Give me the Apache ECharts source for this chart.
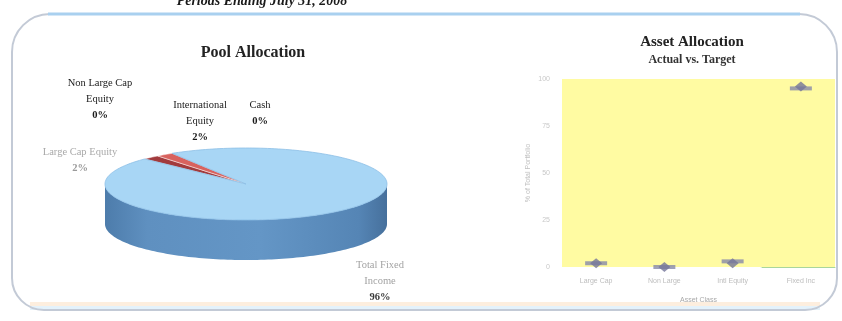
<!DOCTYPE html>
<html>
<head>
<meta charset="utf-8">
<title>Pool Allocation</title>
<script src="https://cdn.jsdelivr.net/npm/echarts@6/dist/echarts.min.js"></script>
<style>
  html, body { margin: 0; padding: 0; background: #ffffff; }
  #chart { width: 842px; height: 321px; }
</style>
</head>
<body>
<div id="chart"></div>
<script>
// ---- Pool allocation (pie) ----
const sliceNames = ['Large Cap Equity', 'Non Large Cap Equity', 'International Equity', 'Cash', 'Total Fixed Income'];
const sliceLabels = ['Large Cap Equity', 'Non Large Cap\nEquity', 'International\nEquity', 'Cash', 'Total Fixed\nIncome'];
const sliceValues = [2, 0, 2, 0, 96];

// ---- Asset allocation, actual vs. target ----
const assetClasses = ['Large Cap', 'Non Large', 'Intl Equity', 'Fixed Inc'];
const actualPct = [2, 0, 2, 96];
const targetPct = [2, 0, 3, 95];
const pctTicks = [0, 25, 50, 75, 100];

// layout / style
const PIE = { cx: 246, cy: 184, rx: 141, ry: 36, depth: 40, start: 136 };
const sliceTop = ['#a23b3d', '#8a6aa0', '#d8625e', '#8fb86a', '#a8d6f5'];
const sliceSide = ['#7a2a2c', '#654d77', '#a84946', '#6c8f4e', '#5b8cbd'];
const labelPos = [[80, 160], [100, 99], [200, 121], [260, 113], [380, 281]];
const labelName = ['#a9a9a9', '#1a1a1a', '#1a1a1a', '#1a1a1a', '#a3a3a3'];
const labelPct = ['#9a9a9a', '#1a1a1a', '#1a1a1a', '#1a1a1a', '#3a3a3a'];

const total = sliceValues.reduce((a, b) => a + b, 0);
const cumulative = sliceValues.map((v, i) => sliceValues.slice(0, i).reduce((a, b) => a + b, 0));

function rimPoint(deg, dy) {
  const t = deg * Math.PI / 180;
  return [PIE.cx + PIE.rx * Math.cos(t), PIE.cy - PIE.ry * Math.sin(t) + (dy || 0)];
}
function arc(from, to, dy) {
  const pts = [];
  const n = Math.max(2, Math.ceil(Math.abs(to - from) / 1.5));
  for (let k = 0; k <= n; k++) pts.push(rimPoint(from + (to - from) * k / n, dy));
  return pts;
}

const sideGradient = {
  type: 'linear', global: true,
  x: PIE.cx - PIE.rx, y: 0, x2: PIE.cx + PIE.rx, y2: 0,
  colorStops: [
    { offset: 0, color: '#4d7cab' },
    { offset: 0.15, color: '#5f90c0' },
    { offset: 0.55, color: '#6496c6' },
    { offset: 0.9, color: '#5585b5' },
    { offset: 1, color: '#46709c' }
  ]
};

function renderSlice(params, api) {
  const i = params.dataIndex;
  const v = api.value(0);
  const a0 = PIE.start - cumulative[i] / total * 360;
  const a1 = a0 - v / total * 360;
  const children = [];
  if (v > 0) {
    const lo = a1, hi = a0;
    // visible side wall: front half of the ellipse (sin < 0)
    for (let k = -2; k <= 1; k++) {
      const fLo = -180 + 360 * k, fHi = 360 * k;
      const s = Math.max(lo, fLo), e = Math.min(hi, fHi);
      if (e > s) {
        const top = arc(s, e, 0);
        const bottom = arc(e, s, PIE.depth);
        children.push({
          type: 'polygon', z2: 1,
          shape: { points: top.concat(bottom) },
          style: { fill: i === 4 ? sideGradient : sliceSide[i], stroke: null }
        });
      }
    }
    // top face
    children.push({
      type: 'polygon', z2: 10,
      shape: { points: [[PIE.cx, PIE.cy]].concat(arc(a0, a1, 0)) },
      style: { fill: sliceTop[i], stroke: i === 4 ? '#8dbfe6' : 'rgba(255,255,255,0.6)', lineWidth: 0.8 }
    });
  }
  // label generated from the slice value
  const pct = Math.round(v / total * 100) + '%';
  children.push({
    type: 'text', z2: 20,
    x: labelPos[i][0], y: labelPos[i][1],
    style: {
      text: '{n|' + sliceLabels[i].split('\n').join('}\n{n|') + '}\n{p|' + pct + '}',
      align: 'center', verticalAlign: 'middle',
      rich: {
        n: { fontFamily: 'Liberation Serif', fontSize: 10.5, lineHeight: 16, fill: labelName[i], align: 'center' },
        p: { fontFamily: 'Liberation Serif', fontSize: 10.5, lineHeight: 16, fill: labelPct[i], fontWeight: 'bold', align: 'center' }
      }
    }
  });
  return { type: 'group', children: children };
}

const chart = echarts.init(document.getElementById('chart'), null, { renderer: 'canvas' });

const option = {
  backgroundColor: '#ffffff',
  animation: false,
  title: [
    {
      text: 'Pool Allocation', left: 248, top: 40, textAlign: 'center',
      textStyle: { fontFamily: 'Liberation Serif', fontSize: 16, fontWeight: 'bold', color: '#222' }
    },
    {
      text: 'Asset Allocation', subtext: 'Actual vs. Target',
      left: 687, top: 30, textAlign: 'center', itemGap: 4,
      textStyle: { fontFamily: 'Liberation Serif', fontSize: 15, fontWeight: 'bold', color: '#222' },
      subtextStyle: { fontFamily: 'Liberation Serif', fontSize: 12, fontWeight: 'bold', color: '#333' }
    }
  ],
  graphic: [
    {
      type: 'text', z: 5, silent: true,
      style: { text: 'Periods Ending July 31, 2008', x: 262, y: -6, align: 'center',
        font: 'italic bold 14px "Liberation Serif"', fill: '#1a1a1a' }
    },
    {
      type: 'rect', z: -5, silent: true,
      shape: { x: 12, y: 14, width: 825, height: 296, r: [38, 38, 32, 32] },
      style: { fill: 'rgba(0,0,0,0)', stroke: '#c3cad6', lineWidth: 2 }
    },
    {
      type: 'line', z: -4, silent: true,
      shape: { x1: 48, y1: 14, x2: 800, y2: 14 },
      style: { stroke: '#a9d0ef', lineWidth: 3 }
    },
    {
      type: 'rect', z: -6, silent: true,
      shape: { x: 30, y: 302, width: 790, height: 4 },
      style: { fill: '#fdeede' }
    },
    {
      type: 'rect', z: -6, silent: true,
      shape: { x: 30, y: 306, width: 790, height: 4 },
      style: { fill: '#e4f2fb' }
    }
  ],
  grid: {
    left: 562, right: 7, top: 79, bottom: 54,
    show: true, backgroundColor: '#fffba2', borderWidth: 0
  },
  xAxis: {
    type: 'category', data: assetClasses, boundaryGap: true,
    axisLine: {
      lineStyle: {
        width: 1,
        color: {
          type: 'linear', x: 0, y: 0, x2: 1, y2: 0,
          colorStops: [
            { offset: 0, color: 'rgba(255,255,255,0)' },
            { offset: 0.72, color: 'rgba(255,255,255,0)' },
            { offset: 0.73, color: '#a9d69b' },
            { offset: 1, color: '#a9d69b' }
          ]
        }
      }
    },
    axisTick: { show: false },
    axisLabel: { fontFamily: 'Liberation Sans', fontSize: 7, color: '#bdbdbd', margin: 11 },
    name: 'Asset Class', nameLocation: 'middle', nameGap: 30,
    nameTextStyle: { fontFamily: 'Liberation Sans', fontSize: 7, color: '#a8a8a8' }
  },
  yAxis: {
    type: 'value', min: 0, max: 100, interval: 25,
    axisLine: { show: false }, axisTick: { show: false }, splitLine: { show: false },
    axisLabel: {
      fontFamily: 'Liberation Sans', fontSize: 7, color: '#c8c8c8', margin: 12,
      formatter: v => pctTicks.includes(v) ? String(v) : ''
    },
    name: '% of Total Portfolio', nameLocation: 'middle', nameGap: 30, nameRotate: 90,
    nameTextStyle: { fontFamily: 'Liberation Sans', fontSize: 7, color: '#c0c0c0' }
  },
  series: [
    {
      name: 'Pool Allocation', type: 'custom', coordinateSystem: 'none',
      renderItem: renderSlice,
      data: sliceValues.map((v, i) => ({ name: sliceNames[i], value: [v] }))
    },
    {
      name: 'Target', type: 'scatter', data: targetPct,
      symbol: 'rect', symbolSize: [22, 4],
      itemStyle: { color: '#8789aa' }, z: 3
    },
    {
      name: 'Actual', type: 'scatter', data: actualPct,
      symbol: 'diamond', symbolSize: [12, 10],
      itemStyle: { color: '#74769a' }, z: 4
    }
  ]
};

chart.setOption(option);
</script>
</body>
</html>
